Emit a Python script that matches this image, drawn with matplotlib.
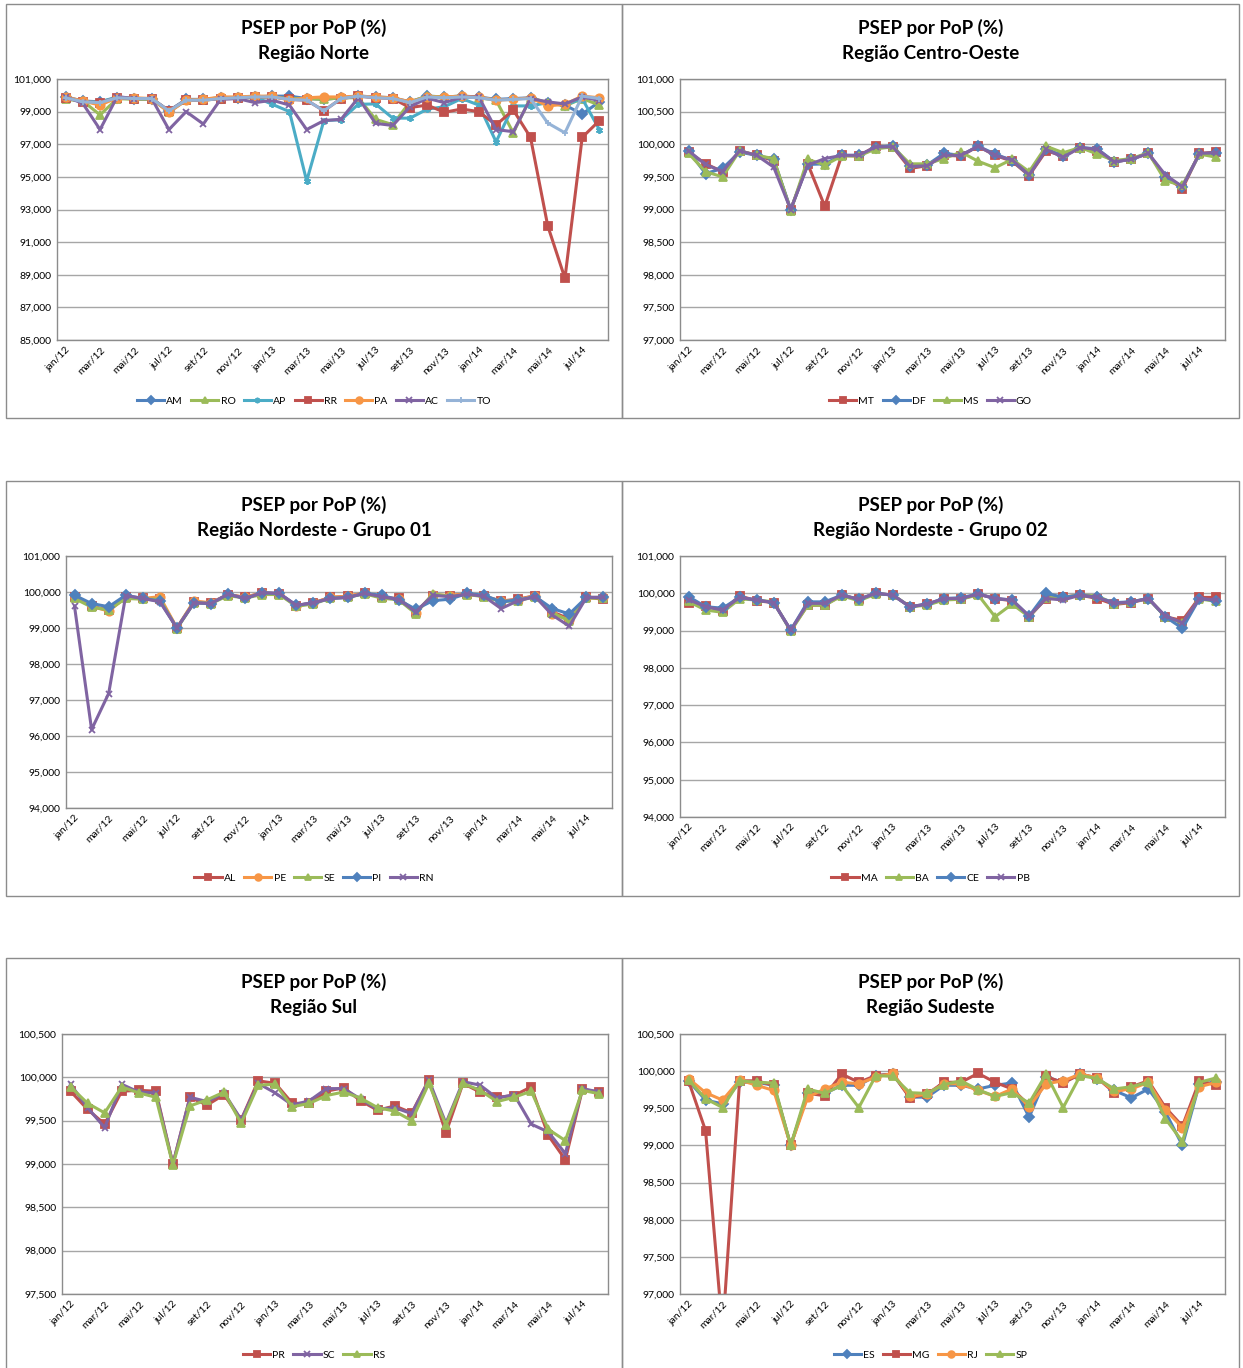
import numpy as np
import matplotlib
matplotlib.use("Agg")
import matplotlib.pyplot as plt
from matplotlib.patches import Rectangle
from matplotlib.ticker import FuncFormatter

plt.rcParams['font.family'] = ['Lato', 'DejaVu Sans']

W, H = 1243, 1368

MESES = ['jan', 'fev', 'mar', 'abr', 'mai', 'jun', 'jul', 'ago', 'set', 'out', 'nov', 'dez']
meses = [f"{MESES[i % 12]}/{12 + i // 12}" for i in range(32)]

# cores padrão do excel
AZUL = '#4F81BD'
VERMELHO = '#C0504D'
VERDE = '#9BBB59'
ROXO = '#8064A2'
CIANO = '#4BACC6'
LARANJA = '#F79646'
AZUL_CLARO = '#95B3D7'

# ---- Região Norte
AM = [99.90, 99.65, 99.60, 99.85, 99.80, 99.80, 99.05, 99.75, 99.75, 99.85, 99.85, 99.90, 99.95, 99.95, 99.80, 99.75,
      99.85, 99.95, 99.90, 99.85, 99.60, 99.95, 99.90, 99.95, 99.90, 99.75, 99.80, 99.85, 99.50, 99.40, 98.85, 99.60]
RO = [99.75, 99.65, 98.80, 99.80, 99.75, 99.75, 99.00, 99.70, 99.70, 99.80, 99.85, 99.85, 99.90, 99.80, 99.80, 99.75,
      99.85, 99.85, 98.53, 98.20, 99.60, 99.95, 99.90, 99.95, 99.85, 99.70, 97.70, 99.85, 99.55, 99.35, 99.80, 99.40]
AP = [99.90, 99.60, 99.60, 99.90, 99.80, 99.80, 99.00, 99.70, 99.75, 99.85, 99.85, 99.90, 99.45, 99.00, 94.75, 98.45,
      98.50, 99.45, 99.47, 98.60, 98.60, 99.15, 99.30, 99.80, 99.40, 97.15, 99.35, 99.35, 99.55, 99.40, 99.80, 97.90]
RR = [99.85, 99.60, 99.55, 99.85, 99.80, 99.80, 99.05, 99.70, 99.70, 99.80, 99.85, 99.90, 99.90, 99.75, 99.70, 99.05,
      99.80, 99.95, 99.85, 99.80, 99.25, 99.40, 98.96, 99.16, 99.00, 98.18, 99.10, 97.42, 92.00, 88.78, 97.42, 98.45]
PA = [99.90, 99.65, 99.40, 99.85, 99.85, 99.80, 98.95, 99.70, 99.75, 99.90, 99.90, 99.95, 99.95, 99.70, 99.85, 99.90,
      99.90, 99.95, 99.90, 99.85, 99.60, 99.90, 99.90, 99.95, 99.90, 99.70, 99.75, 99.85, 99.35, 99.45, 99.95, 99.85]
AC = [99.92, 99.50, 97.90, 99.92, 99.80, 99.80, 97.90, 99.00, 98.24, 99.75, 99.80, 99.55, 99.70, 99.40, 97.90, 98.45,
      98.53, 99.85, 98.28, 98.15, 99.30, 99.82, 99.55, 99.88, 99.90, 97.90, 97.77, 99.80, 99.60, 99.47, 99.90, 99.68]
TO = [99.85, 99.60, 99.55, 99.85, 99.80, 99.80, 99.05, 99.70, 99.70, 99.80, 99.85, 99.90, 99.90, 99.75, 99.70, 99.05,
      99.80, 99.95, 99.85, 99.80, 99.55, 99.90, 99.85, 99.90, 99.85, 99.70, 99.75, 99.80, 98.30, 97.70, 99.95, 99.80]

# ---- Região Centro-Oeste
MT = [99.88, 99.70, 99.58, 99.90, 99.83, 99.75, 99.00, 99.70, 99.05, 99.83, 99.82, 99.97, 99.96, 99.63, 99.67, 99.83,
      99.82, 99.97, 99.83, 99.74, 99.52, 99.90, 99.82, 99.95, 99.90, 99.73, 99.77, 99.86, 99.50, 99.32, 99.86, 99.88]
DF = [99.90, 99.55, 99.63, 99.88, 99.83, 99.77, 99.00, 99.69, 99.70, 99.83, 99.83, 99.95, 99.98, 99.66, 99.68, 99.86,
      99.83, 99.97, 99.85, 99.75, 99.53, 99.93, 99.82, 99.95, 99.93, 99.73, 99.77, 99.86, 99.50, 99.35, 99.85, 99.87]
MS = [99.86, 99.58, 99.50, 99.90, 99.83, 99.78, 98.98, 99.77, 99.68, 99.82, 99.82, 99.93, 99.96, 99.70, 99.70, 99.78,
      99.88, 99.74, 99.64, 99.77, 99.58, 99.97, 99.87, 99.95, 99.85, 99.75, 99.78, 99.87, 99.44, 99.37, 99.85, 99.80]
GO = [99.90, 99.69, 99.58, 99.90, 99.83, 99.65, 99.00, 99.68, 99.78, 99.83, 99.83, 99.96, 99.96, 99.66, 99.67, 99.83,
      99.83, 99.97, 99.83, 99.76, 99.53, 99.92, 99.80, 99.95, 99.92, 99.73, 99.77, 99.86, 99.53, 99.35, 99.86, 99.87]

# ---- Região Nordeste - Grupo 01
AL = [99.85, 99.60, 99.50, 99.85, 99.82, 99.80, 99.00, 99.72, 99.70, 99.93, 99.85, 99.98, 99.95, 99.62, 99.70, 99.85,
      99.88, 99.97, 99.85, 99.82, 99.45, 99.90, 99.90, 99.95, 99.88, 99.75, 99.80, 99.90, 99.45, 99.25, 99.85, 99.80]
PE = [99.85, 99.60, 99.47, 99.85, 99.82, 99.87, 99.00, 99.75, 99.70, 99.93, 99.85, 99.98, 99.95, 99.62, 99.70, 99.85,
      99.88, 99.97, 99.85, 99.80, 99.42, 99.93, 99.90, 99.95, 99.88, 99.75, 99.78, 99.90, 99.40, 99.22, 99.85, 99.85]
SE = [99.82, 99.58, 99.50, 99.82, 99.80, 99.80, 98.98, 99.70, 99.68, 99.90, 99.83, 99.93, 99.93, 99.60, 99.67, 99.83,
      99.85, 99.95, 99.83, 99.78, 99.40, 99.95, 99.88, 99.93, 99.87, 99.73, 99.76, 99.87, 99.42, 99.20, 99.83, 99.83]
PI = [99.91, 99.68, 99.59, 99.91, 99.82, 99.75, 99.00, 99.70, 99.68, 99.94, 99.82, 99.98, 99.96, 99.63, 99.70, 99.82,
      99.85, 99.96, 99.91, 99.78, 99.52, 99.76, 99.80, 99.96, 99.91, 99.73, 99.78, 99.87, 99.54, 99.39, 99.85, 99.85]
RN = [99.60, 96.18, 97.18, 99.90, 99.82, 99.73, 99.00, 99.70, 99.68, 99.94, 99.82, 99.98, 99.96, 99.63, 99.70, 99.82,
      99.85, 99.96, 99.87, 99.79, 99.45, 99.91, 99.87, 99.94, 99.88, 99.54, 99.76, 99.87, 99.36, 99.05, 99.85, 99.85]

# ---- Região Nordeste - Grupo 02
MA = [99.73, 99.66, 99.53, 99.93, 99.80, 99.75, 99.01, 99.68, 99.68, 99.95, 99.84, 100.00, 99.95, 99.64, 99.70, 99.84,
      99.84, 99.98, 99.86, 99.80, 99.37, 99.86, 99.90, 99.95, 99.86, 99.70, 99.75, 99.86, 99.37, 99.27, 99.89, 99.89]
BA = [99.78, 99.55, 99.49, 99.85, 99.82, 99.77, 98.98, 99.68, 99.68, 99.93, 99.80, 99.98, 99.96, 99.64, 99.68, 99.82,
      99.84, 99.96, 99.37, 99.71, 99.37, 99.88, 99.89, 99.95, 99.93, 99.72, 99.77, 99.86, 99.37, 99.20, 99.85, 99.78]
CE = [99.91, 99.64, 99.60, 99.89, 99.82, 99.75, 99.01, 99.77, 99.77, 99.95, 99.84, 100.00, 99.95, 99.64, 99.71, 99.86,
      99.88, 99.98, 99.86, 99.82, 99.39, 100.00, 99.89, 99.95, 99.89, 99.75, 99.77, 99.86, 99.37, 99.06, 99.86, 99.80]
PB = [99.83, 99.64, 99.55, 99.89, 99.82, 99.75, 99.01, 99.73, 99.73, 99.95, 99.84, 100.00, 99.95, 99.64, 99.71, 99.86,
      99.86, 99.98, 99.86, 99.82, 99.39, 99.86, 99.82, 99.95, 99.89, 99.73, 99.77, 99.86, 99.39, 99.21, 99.86, 99.82]

# ---- Região Sul
PR = [99.84, 99.63, 99.46, 99.84, 99.85, 99.84, 99.00, 99.77, 99.68, 99.80, 99.51, 99.96, 99.93, 99.70, 99.70, 99.84,
      99.88, 99.73, 99.62, 99.67, 99.59, 99.97, 99.36, 99.93, 99.83, 99.77, 99.79, 99.89, 99.33, 99.05, 99.86, 99.83]
SC = [99.92, 99.65, 99.42, 99.92, 99.83, 99.82, 99.00, 99.77, 99.72, 99.82, 99.51, 99.93, 99.82, 99.68, 99.73, 99.87,
      99.87, 99.75, 99.63, 99.65, 99.58, 99.97, 99.47, 99.95, 99.91, 99.76, 99.80, 99.46, 99.37, 99.12, 99.87, 99.83]
RS = [99.89, 99.70, 99.59, 99.89, 99.82, 99.77, 98.99, 99.67, 99.74, 99.83, 99.47, 99.91, 99.92, 99.66, 99.70, 99.79,
      99.83, 99.76, 99.65, 99.61, 99.50, 99.93, 99.45, 99.93, 99.85, 99.72, 99.77, 99.84, 99.40, 99.27, 99.85, 99.81]

# ---- Região Sudeste
ES = [99.87, 99.61, 99.56, 99.85, 99.85, 99.81, 99.00, 99.70, 99.70, 99.81, 99.81, 99.94, 99.96, 99.65, 99.65, 99.81,
      99.81, 99.76, 99.81, 99.84, 99.38, 99.92, 99.85, 99.96, 99.90, 99.74, 99.64, 99.76, 99.45, 99.00, 99.83, 99.85]
MG = [99.87, 99.20, 96.50, 99.87, 99.87, 99.81, 99.00, 99.70, 99.67, 99.96, 99.85, 99.94, 99.96, 99.64, 99.69, 99.85,
      99.85, 99.97, 99.85, 99.76, 99.54, 99.93, 99.84, 99.96, 99.91, 99.71, 99.79, 99.87, 99.51, 99.26, 99.87, 99.81]
RJ = [99.90, 99.71, 99.61, 99.88, 99.81, 99.74, 99.00, 99.65, 99.76, 99.85, 99.83, 99.92, 99.97, 99.66, 99.69, 99.83,
      99.83, 99.74, 99.66, 99.76, 99.52, 99.83, 99.87, 99.96, 99.91, 99.73, 99.76, 99.85, 99.48, 99.24, 99.79, 99.85]
SP = [99.88, 99.63, 99.51, 99.87, 99.85, 99.84, 99.00, 99.76, 99.70, 99.81, 99.51, 99.94, 99.93, 99.71, 99.70, 99.82,
      99.87, 99.75, 99.66, 99.71, 99.57, 99.96, 99.51, 99.94, 99.90, 99.76, 99.79, 99.85, 99.36, 99.05, 99.85, 99.91]

ASTER = (6, 2, 0)

paineis = [
    dict(caixa=(6, 4, 622, 418), area=(57, 79, 608, 340), titulo='Região Norte', ylim=(85, 101), passo=2,
         series=[('AM', AM, AZUL, 'D'), ('RO', RO, VERDE, '^'), ('AP', AP, CIANO, ASTER), ('RR', RR, VERMELHO, 's'),
                 ('PA', PA, LARANJA, 'o'), ('AC', AC, ROXO, 'x'), ('TO', TO, AZUL_CLARO, '+')]),
    dict(caixa=(622, 4, 1239, 418), area=(680, 79, 1225, 340), titulo='Região Centro-Oeste', ylim=(97, 101), passo=0.5,
         series=[('MT', MT, VERMELHO, 's'), ('DF', DF, AZUL, 'D'), ('MS', MS, VERDE, '^'), ('GO', GO, ROXO, 'x')]),
    dict(caixa=(6, 481, 622, 896), area=(66, 556, 612, 808), titulo='Região Nordeste - Grupo 01', ylim=(94, 101), passo=1,
         series=[('AL', AL, VERMELHO, 's'), ('PE', PE, LARANJA, 'o'), ('SE', SE, VERDE, '^'), ('PI', PI, AZUL, 'D'),
                 ('RN', RN, ROXO, 'x')]),
    dict(caixa=(622, 481, 1239, 896), area=(680, 556, 1225, 817), titulo='Região Nordeste - Grupo 02', ylim=(94, 101), passo=1,
         series=[('MA', MA, VERMELHO, 's'), ('BA', BA, VERDE, '^'), ('CE', CE, AZUL, 'D'), ('PB', PB, ROXO, 'x')]),
    dict(caixa=(6, 958, 622, 1372), area=(62, 1034, 608, 1294), titulo='Região Sul', ylim=(97.5, 100.5), passo=0.5,
         series=[('PR', PR, VERMELHO, 's'), ('SC', SC, ROXO, 'x'), ('RS', RS, VERDE, '^')]),
    dict(caixa=(622, 958, 1239, 1372), area=(680, 1034, 1225, 1294), titulo='Região Sudeste', ylim=(97, 100.5), passo=0.5,
         series=[('ES', ES, AZUL, 'D'), ('MG', MG, VERMELHO, 's'), ('RJ', RJ, LARANJA, 'o'), ('SP', SP, VERDE, '^')]),
]

fig = plt.figure(figsize=(W / 100, H / 100), dpi=100)
fig.patch.set_facecolor('white')

fmt = FuncFormatter(lambda v, p: f"{v:.3f}".replace('.', ','))
x = np.arange(len(meses))

for p in paineis:
    x0, y0, x1, y1 = p['caixa']
    fig.patches.append(Rectangle((x0 / W, 1 - y1 / H), (x1 - x0) / W, (y1 - y0) / H, transform=fig.transFigure,
                                 fill=False, ec='#8c8c8c', lw=1.0))
    l, t, r, b = p['area']
    ax = fig.add_axes([l / W, 1 - b / H, (r - l) / W, (b - t) / H])

    for nome, vals, cor, mk in p['series']:
        ms = 6 if mk in ('s', 'o', '^') else 5
        ax.plot(x, vals, color=cor, lw=2.2, marker=mk, ms=ms, mec=cor, mfc=cor, mew=1.3, label=nome)

    ymin, ymax = p['ylim']
    ax.set_xlim(-0.5, len(meses) - 0.5)
    ax.set_ylim(ymin, ymax)
    ax.set_yticks(np.arange(ymin, ymax + 1e-6, p['passo']))
    ax.yaxis.set_major_formatter(fmt)
    ax.grid(axis='y', color='#a6a6a6', lw=1.0)
    ax.set_axisbelow(True)
    ax.set_xticks(x[::2])
    ax.set_xticklabels(meses[::2], rotation=45, ha='right', rotation_mode='anchor')
    ax.tick_params(axis='both', length=0, labelsize=7.5, colors='black', pad=4)
    for s in ax.spines.values():
        s.set_color('#8c8c8c')
        s.set_linewidth(1.0)

    cx = (x0 + x1) / 2 / W
    fig.text(cx, 1 - (y0 + 24) / H, 'PSEP por PoP (%)', ha='center', va='center', fontsize=13.5, fontweight='bold')
    fig.text(cx, 1 - (y0 + 50) / H, p['titulo'], ha='center', va='center', fontsize=13.5, fontweight='bold')

    fig.legend(*ax.get_legend_handles_labels(), loc='center', bbox_to_anchor=(cx, 1 - (y0 + 397) / H),
               ncol=len(p['series']), frameon=False, fontsize=7.5, handlelength=2.6, handletextpad=0.2,
               columnspacing=0.8, markerscale=0.8)

fig.savefig('out.png', dpi=100, facecolor='white')
